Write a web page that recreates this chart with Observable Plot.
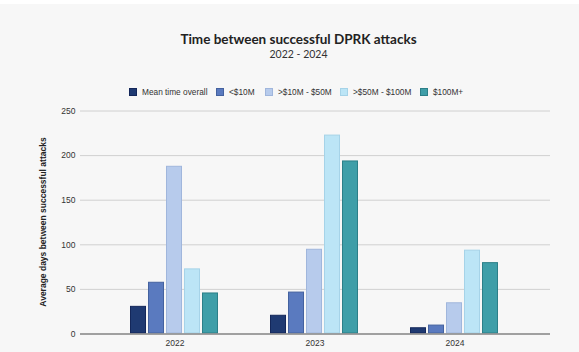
<!DOCTYPE html>
<html><head><meta charset="utf-8">
<script src="https://cdn.jsdelivr.net/npm/d3@7"></script>
<script src="https://cdn.jsdelivr.net/npm/@observablehq/plot@0.6"></script>
<style>
html,body{margin:0;padding:0;}
body{width:579px;height:352px;background:#f7f7f7;position:relative;overflow:hidden;font-family:"Liberation Sans",Arial,sans-serif;}
#strip{position:absolute;top:0;left:0;width:579px;height:4px;background:#fff;}
#title{position:absolute;top:31px;left:9px;width:579px;text-align:center;font-family:Lato,"Noto Sans",sans-serif;font-weight:700;font-size:13.5px;color:#222;line-height:16px;}
#sub{position:absolute;top:48px;left:9px;width:579px;text-align:center;font-family:Lato,"Noto Sans",sans-serif;font-size:10.5px;color:#333;line-height:13px;}
#legend{position:absolute;top:87px;left:0;width:579px;height:10px;}
.item{position:absolute;top:0;display:flex;align-items:center;font-size:8.3px;line-height:10px;color:#333;white-space:nowrap;}
.sw{width:8px;height:8px;margin-right:5px;box-sizing:border-box;border:1px solid;}
#back,#chart,#base{position:absolute;top:96px;left:0;}
</style></head><body>
<div id="strip"></div>
<div id="title">Time between successful DPRK attacks</div>
<div id="sub">2022 - 2024</div>
<div id="legend"></div>
<div id="back"></div>
<div id="chart"></div>
<div id="base"></div>
<script>
const years = ["2022", "2023", "2024"];
const series = ["Mean time overall", "<$10M", ">$10M - $50M", ">$50M - $100M", "$100M+"];
const meanTime = [31, 21, 7];
const under10 = [58, 47, 10];
const from10to50 = [188, 95, 35];
const from50to100 = [73, 223, 94];
const over100 = [46, 194, 80];
const yTicks = [0, 50, 100, 150, 200, 250];
const colors = ["#1f3a72", "#5a7abf", "#b7cbec", "#bce5f6", "#3f9ea8"];
const strokes = ["#14275a", "#44629f", "#a0b6dc", "#a6d3e8", "#2c7f88"];

const valueLists = [meanTime, under10, from10to50, from50to100, over100];
const data = [];
years.forEach((y, i) => series.forEach((s, j) => data.push({year: y, series: s, value: valueLists[j][i]})));

// legend
const legendX = [129, 216, 265, 340, 420];
const leg = document.getElementById("legend");
series.forEach((s, j) => {
  const d = document.createElement("div");
  d.className = "item";
  d.style.left = legendX[j] + "px";
  d.innerHTML = `<span class="sw" style="background:${colors[j]};border-color:${strokes[j]}"></span>`;
  d.appendChild(document.createTextNode(s));
  leg.appendChild(d);
});

const common = {
  width: 579,
  height: 256,
  marginTop: 14.5,
  marginBottom: 18.5,
  marginLeft: 80,
  marginRight: 29,
  style: {background: "transparent", fontFamily: "'Liberation Sans', Arial, sans-serif", fontSize: "8.5px", color: "#333"}
};

// background: grid, y axis
const back = Plot.plot({
  ...common,
  y: {domain: [0, 250], ticks: yTicks, label: null},
  marks: [
    Plot.gridY(yTicks, {stroke: "#d0d0d0", strokeOpacity: 1}),
    Plot.axisY(yTicks, {tickSize: 0, tickPadding: 5, fontSize: 8.5, label: null})
  ]
});
document.getElementById("back").appendChild(back);

// foreground: bars
const chart = Plot.plot({
  ...common,
  y: {domain: [0, 250], axis: null},
  fx: {domain: years, paddingInner: 0.362, paddingOuter: 0.348, label: null},
  x: {domain: series, paddingInner: 0.1, paddingOuter: 0, axis: null},
  color: {domain: series, range: colors},
  marks: [
    Plot.axisFx({anchor: "bottom", tickSize: 0, tickPadding: 6, fontSize: 8.5, label: null}),
    Plot.barY(data, {fx: "year", x: "series", y: "value", fill: "series", stroke: d => strokes[series.indexOf(d.series)], strokeWidth: 1, inset: 0.5})
  ]
});
document.getElementById("chart").appendChild(chart);

// baseline across the full frame, drawn on top of bars
const base = Plot.plot({
  ...common,
  y: {domain: [0, 250], axis: null},
  marks: [Plot.ruleY([0], {stroke: "#8a8a8a", strokeWidth: 1.5})]
});
document.getElementById("base").appendChild(base);

// y axis title
d3.select(back).append("text")
  .attr("transform", `translate(46, ${14.5 + (256 - 14.5 - 18.5) / 2}) rotate(-90)`)
  .attr("text-anchor", "middle")
  .attr("font-weight", "700")
  .attr("font-size", "8.5px")
  .attr("fill", "#222")
  .text("Average days between successful attacks");
</script>
</body></html>
